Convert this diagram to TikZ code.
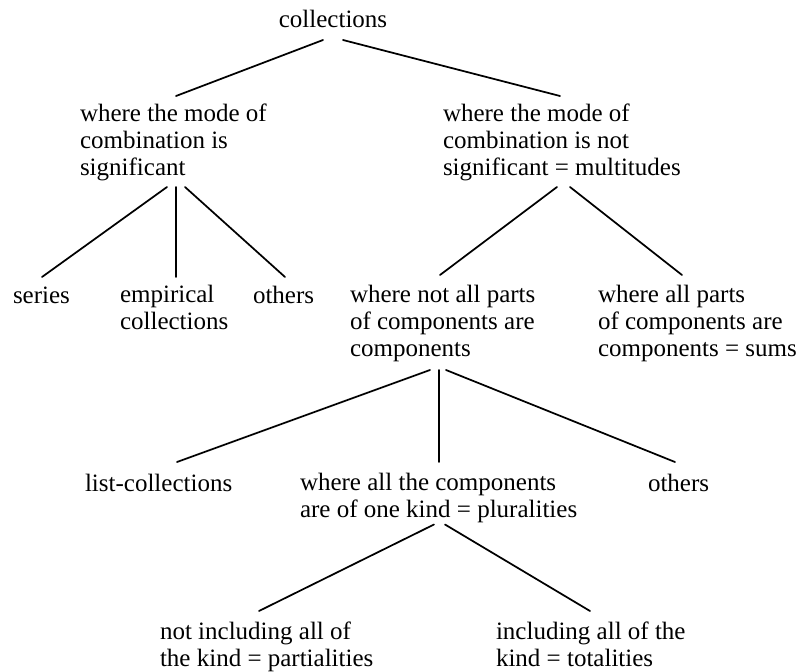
\documentclass[tikz,border=0pt]{standalone}
\usepackage{fontspec}
\setmainfont{Liberation Serif}
\usetikzlibrary{calc}
\begin{document}
\begin{tikzpicture}[x=0.75pt,y=-0.75pt,
  lbl/.style={inner sep=0pt, outer sep=0pt, align=left, anchor=base west,
              font=\fontsize{18.75}{19.9}\selectfont},
  br/.style={line width=1.3pt, line cap=round}]
\useasboundingbox (0,0) rectangle (803,671);
% nodes (positioned at the baseline of their last line)
\node[lbl, anchor=base] (C0) at (333,27) {collections};
\node[lbl] (L1) at (80,175) {where the mode of\\combination is\\significant};
\node[lbl] (R1) at (443,175) {where the mode of\\combination is not\\significant = multitudes};
\node[lbl] (S) at (13,303) {series};
\node[lbl] (E) at (120,329.5) {empirical\\collections};
\node[lbl] (O1) at (253,303) {others};
\node[lbl] (R2a) at (350,356) {where not all parts\\of components are\\components};
\node[lbl] (R2b) at (598,356) {where all parts\\of components are\\components = sums};
\node[lbl] (R3a) at (85,491) {list-collections};
\node[lbl] (R3b) at (300,517.5) {where all the components\\are of one kind = pluralities};
\node[lbl] (R3c) at (648,491) {others};
\node[lbl] (R4a) at (160,666.5) {not including all of\\the kind = partialities};
\node[lbl] (R4b) at (496,666.5) {including all of the\\kind = totalities};
% connectors
\draw[br] ($(C0.base)+(-10,13)$) -- ($(L1.base west)+(96,-79)$);
\draw[br] ($(C0.base)+(10,13)$) -- ($(R1.base west)+(117,-79)$);
\draw[br] ($(L1.base west)+(87,12)$) -- ($(S.base west)+(29,-26)$);
\draw[br] ($(L1.base west)+(96,12)$) -- ($(E.base west)+(56,-52.5)$);
\draw[br] ($(L1.base west)+(105,12)$) -- ($(O1.base west)+(32,-26)$);
\draw[br] ($(R1.base west)+(114,12)$) -- ($(R2a.base west)+(90,-81)$);
\draw[br] ($(R1.base west)+(127,12)$) -- ($(R2b.base west)+(84,-81)$);
\draw[br] ($(R2a.base west)+(80,14)$) -- ($(R3a.base west)+(92,-29)$);
\draw[br] ($(R2a.base west)+(89,14)$) -- ($(R3b.base west)+(139,-55.5)$);
\draw[br] ($(R2a.base west)+(96,14)$) -- ($(R3c.base west)+(27,-29)$);
\draw[br] ($(R3b.base west)+(134,7)$) -- ($(R4a.base west)+(99,-55.5)$);
\draw[br] ($(R3b.base west)+(145,7)$) -- ($(R4b.base west)+(94,-55.5)$);
\end{tikzpicture}
\end{document}
